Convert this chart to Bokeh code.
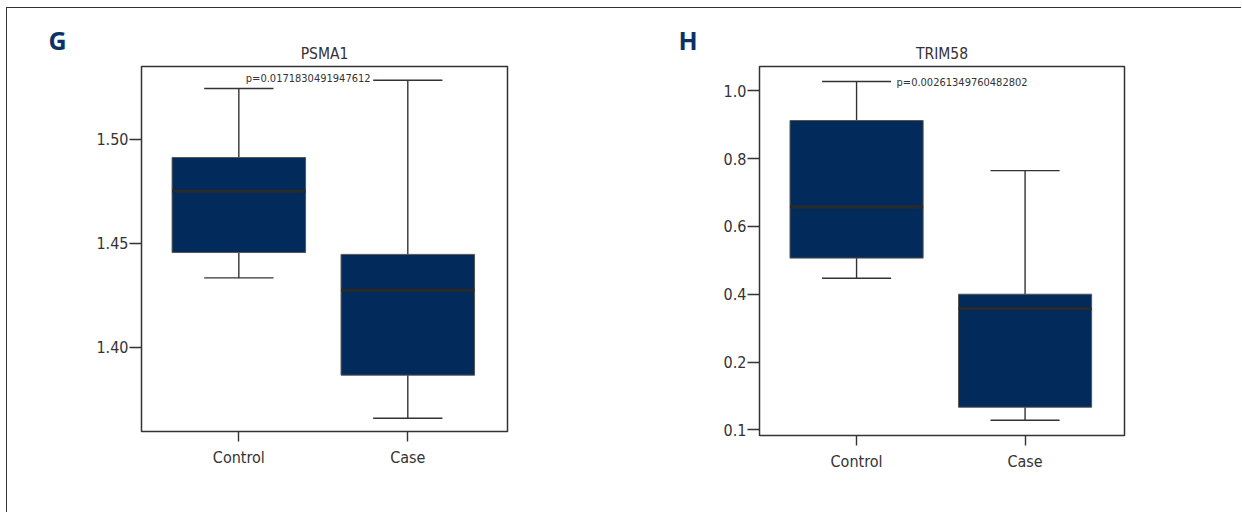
from bokeh.plotting import figure
from bokeh.layouts import row
from bokeh.models import Range1d, FixedTicker, Title, ColumnDataSource
from bokeh.embed import file_html
from bokeh.resources import INLINE

# ---------------- data ----------------
groups = ["Control", "Case"]

psma1_lower = [1.4333, 1.3658]
psma1_q1 = [1.4455, 1.3865]
psma1_median = [1.4750, 1.4274]
psma1_q3 = [1.4912, 1.4446]
psma1_upper = [1.5244, 1.5284]
psma1_p = "p=0.0171830491947612"
psma1_ticks = [1.40, 1.45, 1.50]
psma1_tick_labels = ["1.40", "1.45", "1.50"]

trim58_lower = [0.447, 0.0283]
trim58_q1 = [0.5065, 0.0667]
trim58_median = [0.657, 0.357]
trim58_q3 = [0.9124, 0.400]
trim58_upper = [1.0274, 0.7646]
trim58_p = "p=0.00261349760482802"
trim58_ticks = [0.0, 0.2, 0.4, 0.6, 0.8, 1.0]
trim58_tick_labels = ["0.1", "0.2", "0.4", "0.6", "0.8", "1.0"]

FONT = "DejaVu Sans Condensed"
BOX = "#022a5a"
INK = "#333333"
X0, X1 = -0.576, 1.59


def make_panel(title, letter, lower, q1, med, q3, upper, ticks, tick_labels,
               y0, y1, p_text, p_y, p_xoff, borders, frame, letter_dx):
    left, right, top, bottom = borders
    fw, fh = frame
    p = figure(frame_width=fw, frame_height=fh,
               min_border_left=left, min_border_right=right,
               min_border_top=top, min_border_bottom=bottom,
               x_range=Range1d(X0, X1), y_range=Range1d(y0, y1),
               output_backend="svg", toolbar_location=None, title=letter)
    # panel letter (outer title)
    p.title.align = "left"
    p.title.offset = -letter_dx
    p.title.text_font = "Open Sans"
    p.title.text_font_size = "25px"
    p.title.text_font_style = "bold"
    p.title.text_color = "#0b3266"
    p.title.standoff = -35
    # gene name (inner title)
    p.add_layout(Title(text=title, align="center", offset=-4, text_font=FONT,
                       text_font_size="15.5px", text_font_style="normal",
                       text_color=INK, standoff=7), "above")

    xs = list(range(len(groups)))
    src = ColumnDataSource(dict(x=xs, lower=lower, q1=q1, med=med, q3=q3, upper=upper,
                                cl=[x - 0.205 for x in xs], cr=[x + 0.205 for x in xs],
                                bl=[x - 0.395 for x in xs], br=[x + 0.395 for x in xs]))
    # whiskers
    p.segment(x0="x", y0="q3", x1="x", y1="upper", source=src, line_color=INK, line_width=1.4)
    p.segment(x0="x", y0="lower", x1="x", y1="q1", source=src, line_color=INK, line_width=1.4)
    p.segment(x0="cl", y0="upper", x1="cr", y1="upper", source=src, line_color=INK, line_width=1.4)
    p.segment(x0="cl", y0="lower", x1="cr", y1="lower", source=src, line_color=INK, line_width=1.4)
    # boxes
    p.vbar(x="x", bottom="q1", top="q3", width=0.79, source=src,
           fill_color=BOX, line_color="#555555", line_width=1)
    # median
    p.segment(x0="bl", y0="med", x1="br", y1="med", source=src, line_color="#2a2a2a", line_width=3)

    # p-value text
    p.text(x=[0], y=[p_y], text=[p_text], x_offset=p_xoff,
           text_align="left", text_baseline="middle",
           text_font={"value": FONT}, text_font_size={"value": "11px"}, text_color=INK)

    p.xgrid.visible = False
    p.ygrid.visible = False
    p.outline_line_color = INK
    p.outline_line_width = 1.5
    p.background_fill_color = "white"
    p.border_fill_color = "white"

    p.xaxis.ticker = FixedTicker(ticks=xs)
    p.xaxis.major_label_overrides = {i: g for i, g in enumerate(groups)}
    p.yaxis.ticker = FixedTicker(ticks=ticks)
    p.yaxis.major_label_overrides = {t: l for t, l in zip(ticks, tick_labels)}
    for ax in (p.xaxis[0], p.yaxis[0]):
        ax.axis_line_color = None
        ax.minor_tick_line_color = None
        ax.major_tick_line_color = INK
        ax.major_tick_line_width = 1.4
        ax.major_tick_in = 0
        ax.major_label_text_font = FONT
        ax.major_label_text_font_size = "16px"
        ax.major_label_text_color = INK
    p.xaxis.major_tick_out = 10
    p.xaxis.major_label_standoff = 6
    p.yaxis.major_tick_out = 12
    p.yaxis.major_label_standoff = 1
    return p


p1 = make_panel("PSMA1", "G", psma1_lower, psma1_q1, psma1_median, psma1_q3, psma1_upper,
                psma1_ticks, psma1_tick_labels, 1.3594, 1.5350,
                psma1_p, 1.5292, 7,
                borders=(134, 112, 58, 81), frame=(366, 365), letter_dx=93)
p2 = make_panel("TRIM58", "H", trim58_lower, trim58_q1, trim58_median, trim58_q3, trim58_upper,
                trim58_ticks, trim58_tick_labels, -0.0168, 1.0717,
                trim58_p, 1.0254, 40,
                borders=(140, 117, 57, 78), frame=(365, 369), letter_dx=81)

layout = row(p1, p2, styles={"border-top": "1.5px solid #333", "border-left": "1.5px solid #333",
                             "margin-left": "6px", "margin-top": "6.5px"})

open("out.html", "w").write(file_html(layout, INLINE))
